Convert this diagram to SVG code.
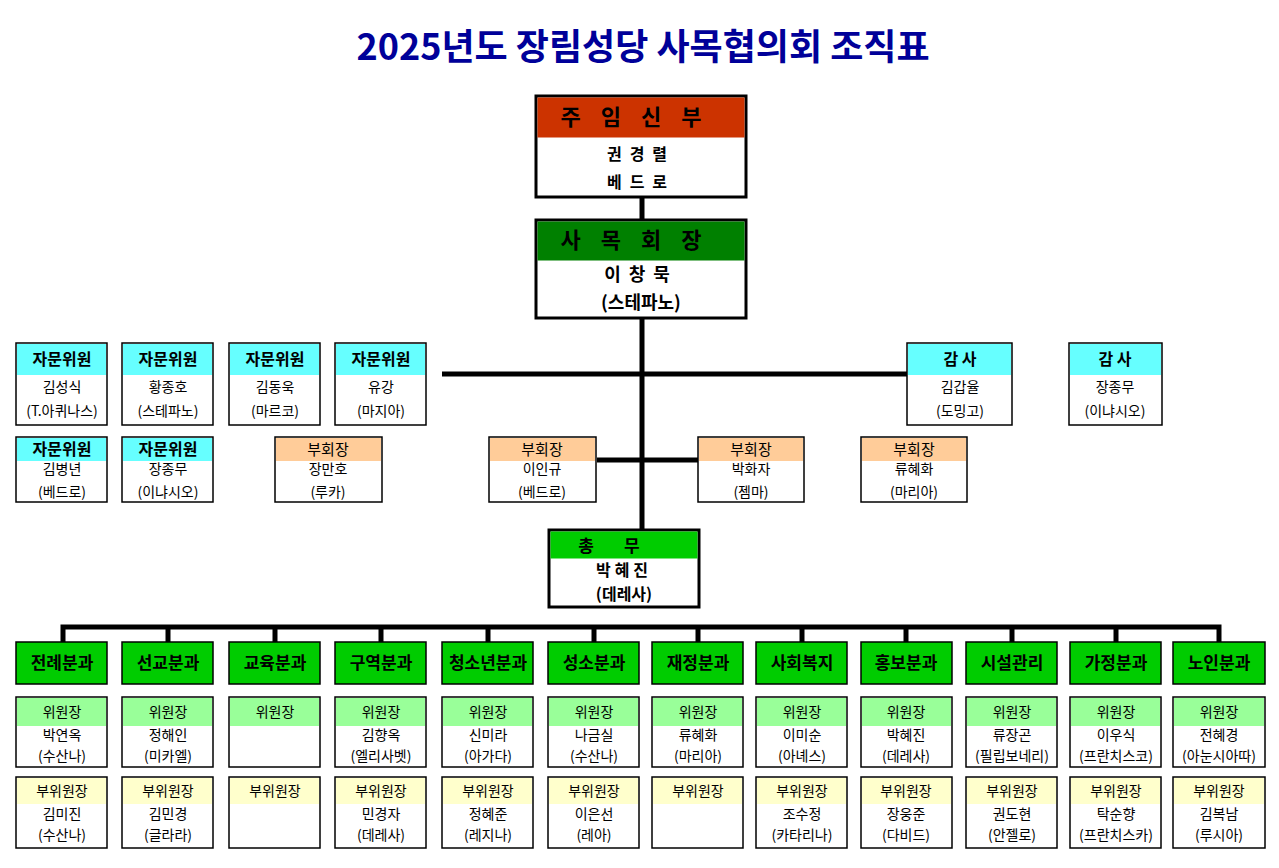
<svg xmlns="http://www.w3.org/2000/svg" width="1279" height="868" viewBox="0 0 1279 868">
<style>
text{font-family:"Noto Sans CJK KR","Noto Sans",sans-serif;text-anchor:middle;fill:#000}
.b{stroke:#000;stroke-width:1.5;fill:#fff}
.B{stroke:#000;stroke-width:3;fill:#fff}
.c{stroke:#000;stroke-width:5;fill:none}
.t{font-size:14px}
.h{font-size:16px;font-weight:bold}
.d{font-size:17px;font-weight:bold}
</style>
<rect width="1279" height="868" fill="#fff"/>
<text x="643" y="60" style="font-size:36px;font-weight:bold;fill:#000099">2025년도 장림성당 사목협의회 조직표</text>
<g id="connectors">
<path class="c" d="M642 197V530M442 374H907M597 460H698M63 642V627H1219V642M168 627V642M275 627V642M381 627V642M488 627V642M594 627V642M698 627V642M802 627V642M906 627V642M1012 627V642M1116 627V642"/>
</g>
<g id="priest"><rect class="B" x="536" y="96" width="210" height="101"/><rect x="537.5" y="97.5" width="207" height="40" fill="#CC3300"/>
<text x="641" y="125" style="font-size:22px;font-weight:bold;letter-spacing:20px">주임신부</text>
<text x="641" y="160" class="h" style="letter-spacing:8px">권경렬</text><text x="641" y="188" class="h" style="letter-spacing:8px">베드로</text></g>
<g id="president"><rect class="B" x="536" y="220" width="210" height="98"/><rect x="537.5" y="221.5" width="207" height="39" fill="#008000"/>
<text x="641" y="248" style="font-size:22px;font-weight:bold;letter-spacing:20px">사목회장</text>
<text x="641" y="281" class="h" style="font-size:18px;letter-spacing:8px">이창묵</text><text x="641" y="309" class="h" style="font-size:18px">(스테파노)</text></g>
<g id="secretary"><rect class="B" x="549" y="530" width="150" height="77"/><rect x="550.5" y="531.5" width="147" height="27" fill="#00CC00"/>
<text x="624" y="552" class="d" style="letter-spacing:30px">총무</text>
<text x="624" y="576" class="h" style="letter-spacing:4px">박혜진</text><text x="624" y="600" class="h">(데레사)</text></g>
<g id="advisors">
<g id="a1"><rect class="b" x="16" y="343" width="91" height="82"/><rect x="17" y="344" width="89" height="31" fill="#66FFFF"/><text x="62" y="365" class="h">자문위원</text><text x="62" y="392" class="t">김성식</text><text x="62" y="416" class="t">(T.아퀴나스)</text></g>
<g id="a2"><rect class="b" x="122" y="343" width="91" height="82"/><rect x="123" y="344" width="89" height="31" fill="#66FFFF"/><text x="168" y="365" class="h">자문위원</text><text x="168" y="392" class="t">황종호</text><text x="168" y="416" class="t">(스테파노)</text></g>
<g id="a3"><rect class="b" x="229" y="343" width="91" height="82"/><rect x="230" y="344" width="89" height="31" fill="#66FFFF"/><text x="275" y="365" class="h">자문위원</text><text x="275" y="392" class="t">김동욱</text><text x="275" y="416" class="t">(마르코)</text></g>
<g id="a4"><rect class="b" x="335" y="343" width="91" height="82"/><rect x="336" y="344" width="89" height="31" fill="#66FFFF"/><text x="381" y="365" class="h">자문위원</text><text x="381" y="392" class="t">유강</text><text x="381" y="416" class="t">(마지아)</text></g>
<g id="a5"><rect class="b" x="16" y="437" width="91" height="65"/><rect x="17" y="438" width="89" height="23" fill="#66FFFF"/><text x="62" y="455" class="h">자문위원</text><text x="62" y="474" class="t">김병년</text><text x="62" y="497" class="t">(베드로)</text></g>
<g id="a6"><rect class="b" x="122" y="437" width="91" height="65"/><rect x="123" y="438" width="89" height="23" fill="#66FFFF"/><text x="168" y="455" class="h">자문위원</text><text x="168" y="474" class="t">장종무</text><text x="168" y="497" class="t">(이냐시오)</text></g>
</g>
<g id="auditors">
<g id="s1"><rect class="b" x="907" y="343" width="105" height="82"/><rect x="908" y="344" width="103" height="31" fill="#66FFFF"/><text x="960" y="365" class="h">감 사</text><text x="960" y="392" class="t">김갑율</text><text x="960" y="416" class="t">(도밍고)</text></g>
<g id="s2"><rect class="b" x="1069" y="343" width="93" height="82"/><rect x="1070" y="344" width="91" height="31" fill="#66FFFF"/><text x="1115" y="365" class="h">감 사</text><text x="1115" y="392" class="t">장종무</text><text x="1115" y="416" class="t">(이냐시오)</text></g>
</g>
<g id="vice">
<g id="v1"><rect class="b" x="275" y="437" width="107" height="65"/><rect x="276" y="438" width="105" height="23" fill="#FFCC99"/><text x="328" y="455" class="h" style="font-weight:normal;font-size:15px">부회장</text><text x="328" y="474" class="t">장만호</text><text x="328" y="497" class="t">(루카)</text></g>
<g id="v2"><rect class="b" x="489" y="437" width="107" height="65"/><rect x="490" y="438" width="105" height="23" fill="#FFCC99"/><text x="542" y="455" class="h" style="font-weight:normal;font-size:15px">부회장</text><text x="542" y="474" class="t">이인규</text><text x="542" y="497" class="t">(베드로)</text></g>
<g id="v3"><rect class="b" x="698" y="437" width="106" height="65"/><rect x="699" y="438" width="104" height="23" fill="#FFCC99"/><text x="751" y="455" class="h" style="font-weight:normal;font-size:15px">부회장</text><text x="751" y="474" class="t">박화자</text><text x="751" y="497" class="t">(젬마)</text></g>
<g id="v4"><rect class="b" x="861" y="437" width="106" height="65"/><rect x="862" y="438" width="104" height="23" fill="#FFCC99"/><text x="914" y="455" class="h" style="font-weight:normal;font-size:15px">부회장</text><text x="914" y="474" class="t">류혜화</text><text x="914" y="497" class="t">(마리아)</text></g>
</g>
<g id="departments" style="font-size:14px">
<g id="d1"><rect class="b" x="16" y="642" width="91" height="42" fill="#00CC00" style="fill:#00CC00"/><text x="62" y="669" class="d">전례분과</text>
<rect class="b" x="16" y="697" width="91" height="70"/><rect x="17" y="698" width="89" height="28" fill="#99FF99"/><text x="62" y="717" class="t">위원장</text><text x="62" y="740" class="t">박연옥</text><text x="62" y="761" class="t">(수산나)</text>
<rect class="b" x="16" y="777" width="91" height="71"/><rect x="17" y="778" width="89" height="26" fill="#FFFFCC"/><text x="62" y="796" class="t">부위원장</text><text x="62" y="819" class="t">김미진</text><text x="62" y="840" class="t">(수산나)</text></g>
<g id="d2"><rect class="b" x="122" y="642" width="91" height="42" style="fill:#00CC00"/><text x="168" y="669" class="d">선교분과</text>
<rect class="b" x="122" y="697" width="91" height="70"/><rect x="123" y="698" width="89" height="28" fill="#99FF99"/><text x="168" y="717" class="t">위원장</text><text x="168" y="740" class="t">정해인</text><text x="168" y="761" class="t">(미카엘)</text>
<rect class="b" x="122" y="777" width="91" height="71"/><rect x="123" y="778" width="89" height="26" fill="#FFFFCC"/><text x="168" y="796" class="t">부위원장</text><text x="168" y="819" class="t">김민경</text><text x="168" y="840" class="t">(글라라)</text></g>
<g id="d3"><rect class="b" x="229" y="642" width="91" height="42" style="fill:#00CC00"/><text x="275" y="669" class="d">교육분과</text>
<rect class="b" x="229" y="697" width="91" height="70"/><rect x="230" y="698" width="89" height="28" fill="#99FF99"/><text x="275" y="717" class="t">위원장</text>
<rect class="b" x="229" y="777" width="91" height="71"/><rect x="230" y="778" width="89" height="26" fill="#FFFFCC"/><text x="275" y="796" class="t">부위원장</text></g>
<g id="d4"><rect class="b" x="335" y="642" width="91" height="42" style="fill:#00CC00"/><text x="381" y="669" class="d">구역분과</text>
<rect class="b" x="335" y="697" width="91" height="70"/><rect x="336" y="698" width="89" height="28" fill="#99FF99"/><text x="381" y="717" class="t">위원장</text><text x="381" y="740" class="t">김향옥</text><text x="381" y="761" class="t">(엘리사벳)</text>
<rect class="b" x="335" y="777" width="91" height="71"/><rect x="336" y="778" width="89" height="26" fill="#FFFFCC"/><text x="381" y="796" class="t">부위원장</text><text x="381" y="819" class="t">민경자</text><text x="381" y="840" class="t">(데레사)</text></g>
<g id="d5"><rect class="b" x="442" y="642" width="91" height="42" style="fill:#00CC00"/><text x="488" y="669" class="d">청소년분과</text>
<rect class="b" x="442" y="697" width="91" height="70"/><rect x="443" y="698" width="89" height="28" fill="#99FF99"/><text x="488" y="717" class="t">위원장</text><text x="488" y="740" class="t">신미라</text><text x="488" y="761" class="t">(아가다)</text>
<rect class="b" x="442" y="777" width="91" height="71"/><rect x="443" y="778" width="89" height="26" fill="#FFFFCC"/><text x="488" y="796" class="t">부위원장</text><text x="488" y="819" class="t">정혜준</text><text x="488" y="840" class="t">(레지나)</text></g>
<g id="d6"><rect class="b" x="548" y="642" width="91" height="42" style="fill:#00CC00"/><text x="594" y="669" class="d">성소분과</text>
<rect class="b" x="548" y="697" width="91" height="70"/><rect x="549" y="698" width="89" height="28" fill="#99FF99"/><text x="594" y="717" class="t">위원장</text><text x="594" y="740" class="t">나금실</text><text x="594" y="761" class="t">(수산나)</text>
<rect class="b" x="548" y="777" width="91" height="71"/><rect x="549" y="778" width="89" height="26" fill="#FFFFCC"/><text x="594" y="796" class="t">부위원장</text><text x="594" y="819" class="t">이은선</text><text x="594" y="840" class="t">(레아)</text></g>
<g id="d7"><rect class="b" x="652" y="642" width="91" height="42" style="fill:#00CC00"/><text x="698" y="669" class="d">재정분과</text>
<rect class="b" x="652" y="697" width="91" height="70"/><rect x="653" y="698" width="89" height="28" fill="#99FF99"/><text x="698" y="717" class="t">위원장</text><text x="698" y="740" class="t">류혜화</text><text x="698" y="761" class="t">(마리아)</text>
<rect class="b" x="652" y="777" width="91" height="71"/><rect x="653" y="778" width="89" height="26" fill="#FFFFCC"/><text x="698" y="796" class="t">부위원장</text></g>
<g id="d8"><rect class="b" x="756" y="642" width="91" height="42" style="fill:#00CC00"/><text x="802" y="669" class="d">사회복지</text>
<rect class="b" x="756" y="697" width="91" height="70"/><rect x="757" y="698" width="89" height="28" fill="#99FF99"/><text x="802" y="717" class="t">위원장</text><text x="802" y="740" class="t">이미순</text><text x="802" y="761" class="t">(아녜스)</text>
<rect class="b" x="756" y="777" width="91" height="71"/><rect x="757" y="778" width="89" height="26" fill="#FFFFCC"/><text x="802" y="796" class="t">부위원장</text><text x="802" y="819" class="t">조수정</text><text x="802" y="840" class="t">(카타리나)</text></g>
<g id="d9"><rect class="b" x="861" y="642" width="91" height="42" style="fill:#00CC00"/><text x="906" y="669" class="d">홍보분과</text>
<rect class="b" x="861" y="697" width="91" height="70"/><rect x="862" y="698" width="89" height="28" fill="#99FF99"/><text x="906" y="717" class="t">위원장</text><text x="906" y="740" class="t">박혜진</text><text x="906" y="761" class="t">(데레사)</text>
<rect class="b" x="861" y="777" width="91" height="71"/><rect x="862" y="778" width="89" height="26" fill="#FFFFCC"/><text x="906" y="796" class="t">부위원장</text><text x="906" y="819" class="t">장웅준</text><text x="906" y="840" class="t">(다비드)</text></g>
<g id="d10"><rect class="b" x="966" y="642" width="91" height="42" style="fill:#00CC00"/><text x="1012" y="669" class="d">시설관리</text>
<rect class="b" x="966" y="697" width="91" height="70"/><rect x="967" y="698" width="89" height="28" fill="#99FF99"/><text x="1012" y="717" class="t">위원장</text><text x="1012" y="740" class="t">류장곤</text><text x="1012" y="761" class="t">(필립보네리)</text>
<rect class="b" x="966" y="777" width="91" height="71"/><rect x="967" y="778" width="89" height="26" fill="#FFFFCC"/><text x="1012" y="796" class="t">부위원장</text><text x="1012" y="819" class="t">권도현</text><text x="1012" y="840" class="t">(안젤로)</text></g>
<g id="d11"><rect class="b" x="1070" y="642" width="91" height="42" style="fill:#00CC00"/><text x="1116" y="669" class="d">가정분과</text>
<rect class="b" x="1070" y="697" width="91" height="70"/><rect x="1071" y="698" width="89" height="28" fill="#99FF99"/><text x="1116" y="717" class="t">위원장</text><text x="1116" y="740" class="t">이우식</text><text x="1116" y="761" class="t">(프란치스코)</text>
<rect class="b" x="1070" y="777" width="91" height="71"/><rect x="1071" y="778" width="89" height="26" fill="#FFFFCC"/><text x="1116" y="796" class="t">부위원장</text><text x="1116" y="819" class="t">탁순향</text><text x="1116" y="840" class="t">(프란치스카)</text></g>
<g id="d12"><rect class="b" x="1173" y="642" width="92" height="42" style="fill:#00CC00"/><text x="1219" y="669" class="d">노인분과</text>
<rect class="b" x="1173" y="697" width="92" height="70"/><rect x="1174" y="698" width="90" height="28" fill="#99FF99"/><text x="1219" y="717" class="t">위원장</text><text x="1219" y="740" class="t">전혜경</text><text x="1219" y="761" class="t">(아눈시아따)</text>
<rect class="b" x="1173" y="777" width="92" height="71"/><rect x="1174" y="778" width="90" height="26" fill="#FFFFCC"/><text x="1219" y="796" class="t">부위원장</text><text x="1219" y="819" class="t">김복남</text><text x="1219" y="840" class="t">(루시아)</text></g>
</g>
</svg>
